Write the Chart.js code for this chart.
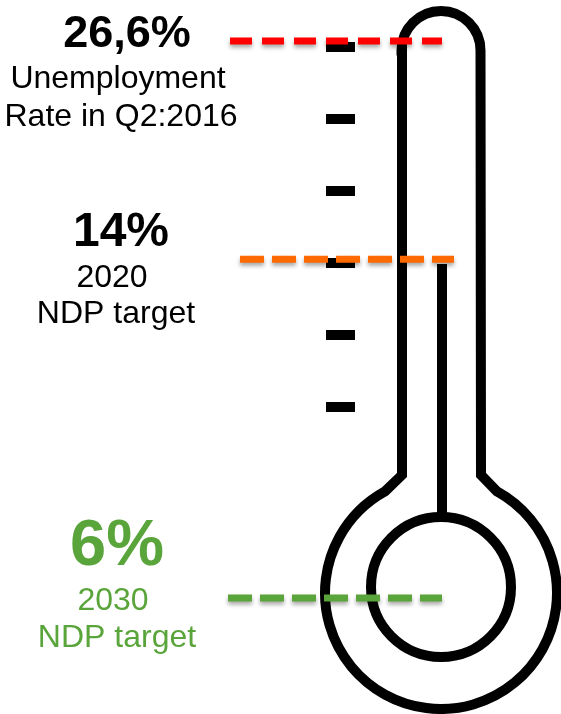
<!DOCTYPE html>
<html>
<head>
<meta charset="utf-8">
<script src="https://cdn.jsdelivr.net/npm/chart.js@4.4.1/dist/chart.umd.min.js"></script>
<style>
  html, body { margin: 0; padding: 0; background: #fff; }
  #wrap { width: 561px; height: 714px; position: relative; }
</style>
</head>
<body>
<div id="wrap"><canvas id="thermoChart"></canvas></div>
<script>
// unemployment rate now and the NDP targets
const rates = [26.6, 14, 6];
const seriesNames = ["Q2:2016", "2020 NDP target", "2030 NDP target"];
const captions = [
  ["Unemployment", "Rate in Q2:2016"],
  ["2020", "NDP target"],
  ["2030", "NDP target"]
];

// styling
const colors = ["#ff0000", "#ff6a00", "#5aa53b"];
const captionColors = ["#000000", "#000000", "#5aa53b"];
const dashes = [[22, 10], [24, 8], [24, 8]];
const spans = [[230, 442], [240, 454], [228, 442]];
const headFonts = [45, 48, 65];
const captionFont = 32;
const labelPos = [
  { head: [127, 47], lines: [[118, 88], [121, 126]] },
  { head: [121, 246], lines: [[112, 287], [116, 323]] },
  { head: [117, 565], lines: [[113, 610], [117, 647]] }
];
const FONT = 'Arial, "Liberation Sans", Helvetica, sans-serif';

// log scale shifted by a constant, so low values get more room
class ShiftedLogScale extends Chart.LinearScale {
  static id = "shiftedLog";
  getPixelForValue(value) {
    const s = this.options.shift;
    const lo = Math.log(this.min - s), hi = Math.log(this.max - s);
    return this.getPixelForDecimal((Math.log(value - s) - lo) / (hi - lo));
  }
  getValueForPixel(pixel) {
    const s = this.options.shift;
    const lo = Math.log(this.min - s), hi = Math.log(this.max - s);
    return Math.exp(lo + this.getDecimalForPixel(pixel) * (hi - lo)) + s;
  }
}
Chart.register(ShiftedLogScale);

// thermometer outline, drawn under the dashed lines
const thermometer = {
  id: "thermometer",
  beforeDatasetsDraw(chart) {
    const ctx = chart.ctx;
    ctx.save();
    ctx.strokeStyle = "#000";
    ctx.fillStyle = "#000";
    ctx.lineWidth = 10;
    ctx.lineJoin = "miter";

    const cx = 441, tubeL = 402, tubeR = 481, tubeTop = 50.5, neck = 475;
    const bulbY = 593, bulbR = 116;
    const dx = 56, dy = Math.sqrt(bulbR * bulbR - dx * dx);
    const a = Math.atan2(-dy, dx);

    ctx.beginPath();
    ctx.moveTo(tubeL, neck);
    ctx.lineTo(tubeL, tubeTop);
    ctx.arc(cx, tubeTop, (tubeR - tubeL) / 2, Math.PI, 0, false);
    ctx.lineTo(tubeR, neck);
    ctx.lineTo(cx + dx, bulbY - dy);
    ctx.arc(cx, bulbY, bulbR, a, Math.PI - a, false);
    ctx.closePath();
    ctx.stroke();

    // inner bulb and the mercury column
    ctx.beginPath();
    ctx.arc(cx, 587, 70, 0, Math.PI * 2);
    ctx.stroke();
    ctx.fillRect(437, 264, 10, 254);

    // scale marks on the left of the tube
    [47, 119, 191, 263, 335, 407].forEach(y => ctx.fillRect(326, y - 5, 29, 10));
    ctx.restore();
  },
  beforeDatasetDraw(chart) {
    const ctx = chart.ctx;
    ctx.save();
    ctx.shadowColor = "rgba(0,0,0,0.35)";
    ctx.shadowBlur = 4;
    ctx.shadowOffsetY = 3;
  },
  afterDatasetDraw(chart) {
    chart.ctx.restore();
  },
  afterDraw(chart) {
    const ctx = chart.ctx;
    ctx.save();
    ctx.textAlign = "center";
    ctx.textBaseline = "alphabetic";
    rates.forEach((v, i) => {
      const pos = labelPos[i];
      ctx.fillStyle = i === 2 ? colors[2] : "#000";
      ctx.font = "bold " + headFonts[i] + "px " + FONT;
      ctx.fillText(String(v).replace(".", ",") + "%", pos.head[0], pos.head[1]);
      ctx.fillStyle = captionColors[i];
      ctx.font = captionFont + "px " + FONT;
      captions[i].forEach((t, j) => ctx.fillText(t, pos.lines[j][0], pos.lines[j][1]));
    });
    ctx.restore();
  }
};

const datasets = rates.map((v, i) => ({
  label: seriesNames[i],
  data: [{ x: spans[i][0], y: v }, { x: spans[i][1], y: v }],
  borderColor: colors[i],
  borderWidth: 7,
  borderDash: dashes[i],
  borderCapStyle: "butt",
  pointRadius: 0,
  fill: false
}));

new Chart(document.getElementById("thermoChart"), {
  type: "line",
  data: { datasets },
  options: {
    responsive: true,
    maintainAspectRatio: false,
    animation: false,
    layout: { padding: 0 },
    plugins: { legend: { display: false }, tooltip: { enabled: false } },
    scales: {
      x: { type: "linear", min: 0, max: 561, display: false },
      y: { type: "shiftedLog", shift: 2.15, min: 4.77, max: 30.16, display: false }
    }
  },
  plugins: [thermometer]
});
</script>
</body>
</html>
